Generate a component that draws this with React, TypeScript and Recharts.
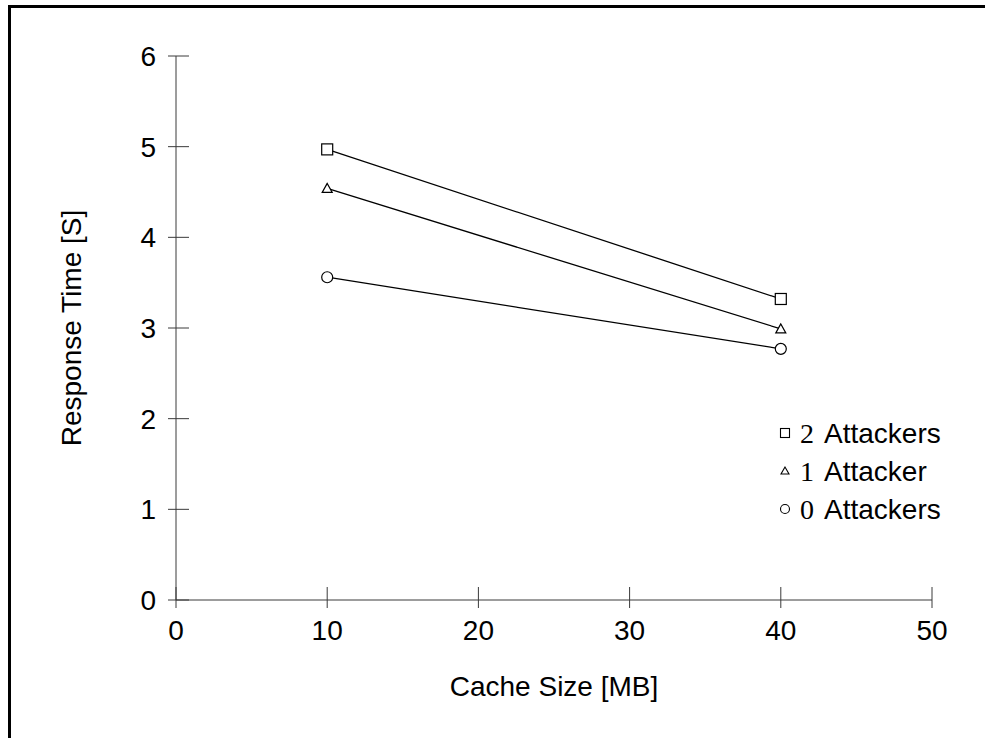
import {
    LineChart,
    Line,
    XAxis,
    YAxis,
    Legend
} from 'recharts';

// values
const cacheSizes = [10, 40];
const twoAttackers = [4.97, 3.32];
const oneAttacker = [4.54, 2.99];
const zeroAttackers = [3.56, 2.77];

const xTicks = [0, 10, 20, 30, 40, 50];
const yTicks = [0, 1, 2, 3, 4, 5, 6];

const seriesNames = ['2 Attackers', '1 Attacker', '0 Attackers'];

const data = cacheSizes.map((size, i) => ({
    size,
    two: twoAttackers[i],
    one: oneAttacker[i],
    zero: zeroAttackers[i],
}));

const FONT = '"Liberation Sans", Arial, sans-serif';
const AXIS = '#3a3a3a';
const FS = 28;

/* markers, pgfplots style */
const SquareDot = (props: any) => {
    const { cx, cy } = props;
    if (cx == null || cy == null) return null;
    return <rect x={cx - 5.5} y={cy - 5.5} width={11} height={11} fill="#fff" stroke="#000" strokeWidth={1.2} />;
};

const TriangleDot = (props: any) => {
    const { cx, cy } = props;
    if (cx == null || cy == null) return null;
    return (
        <polygon
            points={`${cx},${cy - 5} ${cx - 5},${cy + 4} ${cx + 5},${cy + 4}`}
            fill="#fff"
            stroke="#000"
            strokeWidth={1.2}
        />
    );
};

const CircleDot = (props: any) => {
    const { cx, cy } = props;
    if (cx == null || cy == null) return null;
    return <circle cx={cx} cy={cy} r={5.5} fill="#fff" stroke="#000" strokeWidth={1.2} />;
};

// tick marks cross the axis line, so draw them with the label
const YTick = (props: any) => {
    const { x, y, payload } = props;
    // x = axis - tickSize(8) - tickMargin(12)
    return (
        <g>
            <line x1={x + 12} x2={x + 33} y1={y} y2={y} stroke={AXIS} strokeWidth={1} />
            <text x={x} y={y} dy={10} textAnchor="end" fontFamily={FONT} fontSize={FS} fill="#000">
                {payload.value}
            </text>
        </g>
    );
};

const XTick = (props: any) => {
    const { x, y, payload } = props;
    // y = axis + tickSize(8) + tickMargin(10)
    return (
        <g>
            <line x1={x} x2={x} y1={y - 31} y2={y - 10} stroke={AXIS} strokeWidth={1} />
            <text x={x} y={y} dy={22} textAnchor="middle" fontFamily={FONT} fontSize={FS} fill="#000">
                {payload.value}
            </text>
        </g>
    );
};

const YLabel = (props: any) => {
    const { viewBox } = props;
    const cx = 70;
    const cy = viewBox.y + viewBox.height / 2;
    return (
        <text
            x={cx}
            y={cy}
            transform={`rotate(-90, ${cx}, ${cy})`}
            textAnchor="middle"
            fontFamily={FONT}
            fontSize={FS}
            fill="#000"
        >
            Response Time [S]
        </text>
    );
};

const XLabel = (props: any) => {
    const { viewBox } = props;
    return (
        <text
            x={viewBox.x + viewBox.width / 2}
            y={688}
            textAnchor="middle"
            fontFamily={FONT}
            fontSize={FS}
            fill="#000"
        >
            Cache Size [MB]
        </text>
    );
};

const legendMarkers = [
    (cx: number, cy: number) => <rect x={cx - 4.5} y={cy - 4.5} width={9} height={9} fill="#fff" stroke="#000" strokeWidth={1.1} />,
    (cx: number, cy: number) => (
        <polygon points={`${cx},${cy - 4} ${cx - 4},${cy + 3} ${cx + 4},${cy + 3}`} fill="#fff" stroke="#000" strokeWidth={1.1} />
    ),
    (cx: number, cy: number) => <circle cx={cx} cy={cy} r={4.5} fill="#fff" stroke="#000" strokeWidth={1.1} />,
];

const LegendBox = () => (
    <svg width={210} height={130}>
        {seriesNames.map((name, i) => {
            const base = 30 + i * 38;
            const [num, ...rest] = name.split(' ');
            return (
                <g key={name}>
                    {legendMarkers[i](14, base - 10)}
                    <text x={29} y={base} fontSize={FS} fill="#000">
                        <tspan fontFamily='"Liberation Serif", serif'>{num}</tspan>
                        <tspan fontFamily={FONT} dx={10}>{rest.join(' ')}</tspan>
                    </text>
                </g>
            );
        })}
    </svg>
);

export default function App() {
    return (
        <div
            style={{
                position: 'fixed',
                top: 5,
                left: 8,
                width: 977,
                height: 740,
                boxSizing: 'border-box',
                borderTop: '3px solid #000',
                borderLeft: '3px solid #000',
                background: '#fff',
            }}
        >
            <LineChart
                width={974}
                height={730}
                data={data}
                margin={{ top: 48, right: 53, left: 0, bottom: 0 }}
            >
                <XAxis
                    dataKey="size"
                    type="number"
                    domain={[0, 50]}
                    ticks={xTicks}
                    height={138}
                    tickSize={8}
                    tickMargin={10}
                    tickLine={false}
                    tick={<XTick />}
                    stroke={AXIS}
                    label={<XLabel />}
                />
                <YAxis
                    type="number"
                    domain={[0, 6]}
                    ticks={yTicks}
                    width={165}
                    tickSize={8}
                    tickMargin={12}
                    tickLine={false}
                    tick={<YTick />}
                    stroke={AXIS}
                    label={<YLabel />}
                />
                <Line dataKey="two" stroke="#000" strokeWidth={1.3} dot={<SquareDot />} isAnimationActive={false} />
                <Line dataKey="one" stroke="#000" strokeWidth={1.3} dot={<TriangleDot />} isAnimationActive={false} />
                <Line dataKey="zero" stroke="#000" strokeWidth={1.3} dot={<CircleDot />} isAnimationActive={false} />
                <Legend
                    layout="horizontal"
                    verticalAlign="middle"
                    align="center"
                    content={<LegendBox />}
                    wrapperStyle={{ left: 760, top: 405, width: 210, height: 130 }}
                />
            </LineChart>
        </div>
    );
}
